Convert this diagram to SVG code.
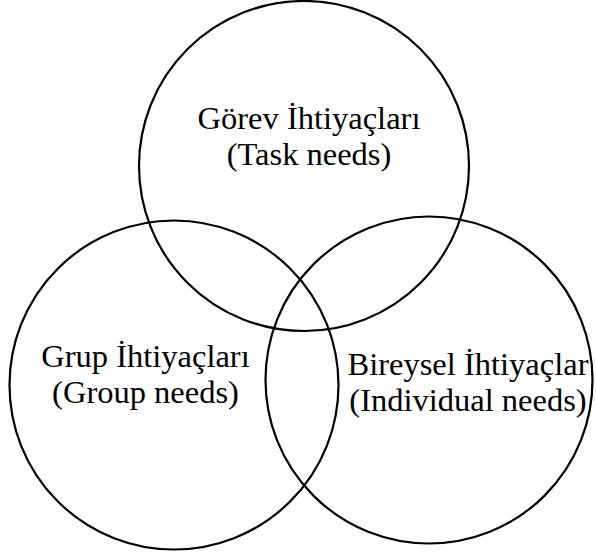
<svg xmlns="http://www.w3.org/2000/svg" width="596" height="558" viewBox="0 0 596 558">
<style>
.c{fill:none;stroke:#000;stroke-width:2.2}
.t{font-family:"Liberation Serif","Times New Roman",serif;font-size:32.5px;fill:#000;text-anchor:middle}
</style>
<rect width="596" height="558" fill="#fff"/>
<g id="task">
<circle class="c" cx="304" cy="166" r="165"/>
<text class="t" x="309" y="129">Görev İhtiyaçları</text>
<text class="t" x="309" y="165">(Task needs)</text>
</g>
<g id="group">
<circle class="c" cx="174" cy="385" r="164.5"/>
<text class="t" x="145.5" y="367">Grup İhtiyaçları</text>
<text class="t" x="145.5" y="403">(Group needs)</text>
</g>
<g id="individual">
<circle class="c" cx="429" cy="380" r="163.5"/>
<text class="t" x="468" y="375">Bireysel İhtiyaçlar</text>
<text class="t" x="468" y="411">(Individual needs)</text>
</g>
<g id="connectors"/>
</svg>
